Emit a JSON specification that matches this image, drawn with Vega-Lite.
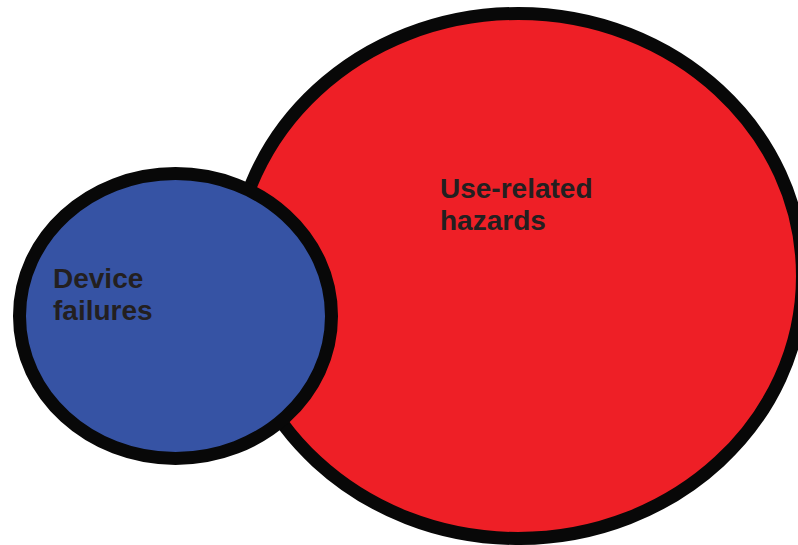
{
  "$schema": "https://vega.github.io/schema/vega-lite/v6.json",
  "width": 798,
  "height": 545,
  "autosize": {"type": "fit", "contains": "padding"},
  "padding": 0,
  "background": "white",
  "config": {"view": {"stroke": null}},
  "data": {
    "values": [
      {"set": "Use-related hazards", "cx": 518, "cy": 276, "rel": 100, "label": "Use-related\nhazards", "lx": 440, "ly": 198},
      {"set": "Device failures", "cx": 175.5, "cy": 316, "rel": 30.07, "label": "Device\nfailures", "lx": 53, "ly": 288}
    ]
  },
  "encoding": {
    "x": {"type": "quantitative", "scale": {"domain": [0, 798], "nice": false, "zero": false}, "axis": null},
    "y": {"type": "quantitative", "scale": {"domain": [0, 545], "nice": false, "zero": false, "reverse": true}, "axis": null}
  },
  "layer": [
    {
      "mark": {
        "type": "point",
        "filled": true,
        "opacity": 1,
        "clip": true,
        "strokeWidth": 13
      },
      "encoding": {
        "x": {"field": "cx", "type": "quantitative"},
        "y": {"field": "cy", "type": "quantitative"},
        "size": {"field": "rel", "type": "quantitative", "scale": {"domain": [0, 100], "range": [0, 323761], "zero": true}, "legend": null},
        "shape": {"field": "set", "type": "nominal", "scale": {"domain": ["Use-related hazards", "Device failures"], "range": [
          "M 1 0 C 1 0.5096 0.5523 0.9227 0 0.9227 C -0.5523 0.9227 -1 0.5096 -1 0 C -1 -0.5096 -0.5523 -0.9227 0 -0.9227 C 0.5523 -0.9227 1 -0.5096 1 0 Z",
          "M 1 0 C 1 0.5044 0.5523 0.913 0 0.913 C -0.5523 0.913 -1 0.5044 -1 0 C -1 -0.5044 -0.5523 -0.913 0 -0.913 C 0.5523 -0.913 1 -0.5044 1 0 Z"
        ]}, "legend": null},
        "fill": {"field": "set", "type": "nominal", "scale": {"domain": ["Use-related hazards", "Device failures"], "range": ["#ee1f26", "#3653a4"]}, "legend": null},
        "stroke": {"value": "#080808"}
      }
    },
    {
      "mark": {
        "type": "text",
        "align": "left",
        "baseline": "alphabetic",
        "font": "Liberation Sans",
        "fontWeight": "bold",
        "fontSize": 28,
        "lineHeight": 32,
        "lineBreak": "\n",
        "color": "#231f20"
      },
      "encoding": {
        "x": {"field": "lx", "type": "quantitative"},
        "y": {"field": "ly", "type": "quantitative"},
        "text": {"field": "label", "type": "nominal"}
      }
    }
  ]
}
